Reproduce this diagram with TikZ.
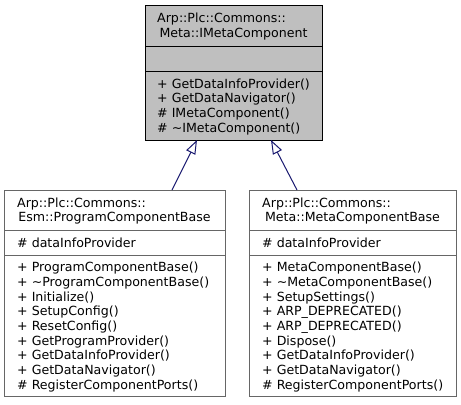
\documentclass[tikz,border=0pt]{standalone}
\usepackage{fontspec}
\setmainfont{DejaVu Sans}
\usetikzlibrary{arrows.meta}
\definecolor{edgeblue}{HTML}{191970}
\definecolor{hdrgray}{HTML}{BFBFBF}
\definecolor{boxline}{HTML}{666666}
\newcommand{\umlfont}{\fontsize{12.6bp}{14.67bp}\selectfont}
\begin{document}
\begin{tikzpicture}[x=1bp,y=-1bp,
  cls/.style={draw=boxline, line width=1bp, inner sep=0, anchor=north west},
  divider/.style={draw=boxline, line width=1bp},
  txt/.style={anchor=base west, inner sep=0, font=\umlfont},
  ctxt/.style={anchor=base, inner sep=0, font=\umlfont},
  inherit/.style={draw=edgeblue, line width=1bp, -{Triangle[open, length=14bp, width=10bp]}}]
\fill[white] (0,0) rectangle (461,404);
\useasboundingbox (0,0) rectangle (461,404);

% top class
\node[cls, draw=black, fill=hdrgray, minimum width=177bp, minimum height=135bp] (top) at (145,5) {};
\draw[divider, draw=black] (145,46) -- (322,46);
\draw[divider, draw=black] (145,71) -- (322,71);
\node[txt] (th1) at (157,22.7) {Arp::Plc::Commons::};
\node[ctxt] (th2) at (233.5,37.4) {Meta::IMetaComponent};
\node[txt] (tm1) at (157,88.0) {+ GetDataInfoProvider()};
\node[txt] (tm2) at (157,102.7) {+ GetDataNavigator()};
\node[txt] (tm3) at (157,117.3) {\# IMetaComponent()};
\node[txt] (tm4) at (157,132.0) {\# \textasciitilde IMetaComponent()};

% left class
\node[cls, minimum width=221bp, minimum height=206bp] (left) at (4,190) {};
\draw[divider] (4,230) -- (225,230);
\draw[divider] (4,255) -- (225,255);
\node[txt] (lh1) at (17,207.2) {Arp::Plc::Commons::};
\node[ctxt] (lh2) at (114.5,221.8) {Esm::ProgramComponentBase};
\node[txt] (la1) at (17,247) {\# dataInfoProvider};
\foreach \t [count=\i from 0] in {%
  + ProgramComponentBase(),
  + \textasciitilde ProgramComponentBase(),
  + Initialize(),
  + SetupConfig(),
  + ResetConfig(),
  + GetProgramProvider(),
  + GetDataInfoProvider(),
  + GetDataNavigator(),
  \# RegisterComponentPorts()}
  \node[txt] (lm\i) at (17,271.8+\i*14.67) {\t};

% right class
\node[cls, minimum width=207bp, minimum height=206bp] (right) at (249,190) {};
\draw[divider] (249,230) -- (456,230);
\draw[divider] (249,255) -- (456,255);
\node[txt] (rh1) at (262,207.2) {Arp::Plc::Commons::};
\node[ctxt] (rh2) at (352.5,221.8) {Meta::MetaComponentBase};
\node[txt] (ra1) at (262,247) {\# dataInfoProvider};
\foreach \t [count=\i from 0] in {%
  + MetaComponentBase(),
  + \textasciitilde MetaComponentBase(),
  + SetupSettings(),
  + ARP\_DEPRECATED(),
  + ARP\_DEPRECATED(),
  + Dispose(),
  + GetDataInfoProvider(),
  + GetDataNavigator(),
  \# RegisterComponentPorts()}
  \node[txt] (rm\i) at (262,271.8+\i*14.67) {\t};

% inheritance
\coordinate (lsrc) at (172,190);
\coordinate (ltip) at (197,140);
\coordinate (rsrc) at (297,190);
\coordinate (rtip) at (271,140);
\draw[inherit] (lsrc) -- (ltip);
\draw[inherit] (rsrc) -- (rtip);
\end{tikzpicture}
\end{document}
